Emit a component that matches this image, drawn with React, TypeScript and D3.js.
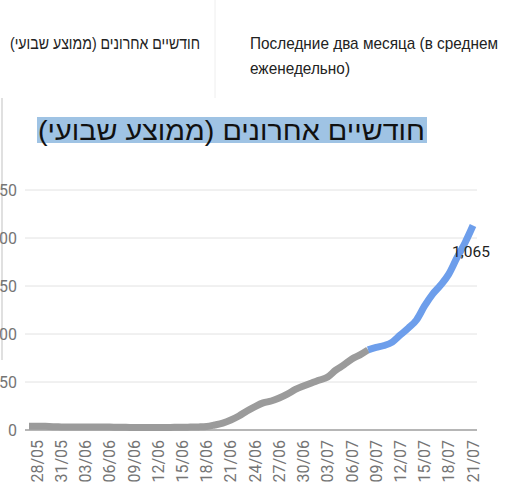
import React from "react";
import * as d3 from "d3";

const dates = [
  "27/05","28/05","29/05","30/05","31/05","01/06","02/06","03/06","04/06","05/06",
  "06/06","07/06","08/06","09/06","10/06","11/06","12/06","13/06","14/06","15/06",
  "16/06","17/06","18/06","19/06","20/06","21/06","22/06","23/06","24/06","25/06",
  "26/06","27/06","28/06","29/06","30/06","01/07","02/07","03/07","04/07","05/07",
  "06/07","07/07","08/07","09/07","10/07","11/07","12/07","13/07","14/07","15/07",
  "16/07","17/07","18/07","19/07","20/07","21/07",
];
const values = [
  20, 20, 19, 17, 16, 15, 15, 15, 15, 15,
  15, 14, 14, 13, 13, 13, 13, 13, 14, 14,
  15, 16, 18, 26, 36, 52, 73, 99, 122, 141,
  151, 167, 187, 211, 229, 245, 260, 276, 312, 339,
  370, 391, 417, 430, 440, 458, 495, 531, 573, 646,
  708, 755, 812, 896, 974, 1065,
];
const tickLabels = [
  "28/05","31/05","03/06","06/06","09/06","12/06","15/06","18/06","21/06","24/06",
  "27/06","30/06","03/07","06/07","09/07","12/07","15/07","18/07","21/07",
];
const yTicks = [0, 250, 500, 750, 1000, 1250];
const splitDate = "08/07";
const headerHe = "חודשיים אחרונים (ממוצע שבועי)";
const headerRu1 = "Последние два месяца (в среднем";
const headerRu2 = "еженедельно)";
const chartTitle = "חודשיים אחרונים (ממוצע שבועי)";
const lastLabel = "1,065";

export default function App() {
  const W = 505, H = 497;
  const x = d3.scalePoint<string>().domain(dates).range([29, 473]);
  const y = d3.scaleLinear().domain([0, 1250]).range([430, 190]);
  const pts = dates.map((d, i) => ({ d, v: values[i] }));
  const splitIdx = dates.indexOf(splitDate);
  const line = d3
    .line<{ d: string; v: number }>()
    .x((p) => x(p.d) as number)
    .y((p) => y(p.v))
    .curve(d3.curveMonotoneX);
  const grayPath = line(pts.slice(0, splitIdx + 1)) || "";
  const bluePath = line(pts.slice(splitIdx)) || "";
  const fmt = d3.format(",");
  const last = pts[pts.length - 1];
  const hdrFont = "'Liberation Sans', Arial, sans-serif";

  return (
    <svg
      width={W}
      height={H}
      style={{ position: "absolute", left: 0, top: 0, background: "#fff" }}
      fontFamily="Roboto, 'Liberation Sans', sans-serif"
    >
      {/* table header */}
      <line x1={215} x2={215} y1={0} y2={98} stroke="#eeeeee" strokeWidth={1} />
      <text
        x={200}
        y={49}
        textAnchor="start"
        direction="rtl"
        fontFamily={hdrFont}
        fontSize={17}
        fill="#222"
        textLength={190}
        lengthAdjust="spacingAndGlyphs"
      >
        {headerHe}
      </text>
      <text x={250} y={49} fontFamily={hdrFont} fontSize={17} fill="#222" textLength={248} lengthAdjust="spacingAndGlyphs">
        {headerRu1}
      </text>
      <text x={250} y={74} fontFamily={hdrFont} fontSize={17} fill="#222" textLength={100} lengthAdjust="spacingAndGlyphs">
        {headerRu2}
      </text>

      {/* chart frame edge */}
      <line x1={2} x2={2} y1={98} y2={360} stroke="#d6d6d6" strokeWidth={1.5} />

      {/* title */}
      <rect x={37} y={117} width={390} height={26} fill="#9fc3e4" />
      <text
        x={425}
        y={140}
        textAnchor="start"
        direction="rtl"
        fontFamily={hdrFont}
        fontSize={27}
        fill="#111"
        textLength={387}
        lengthAdjust="spacingAndGlyphs"
      >
        {chartTitle}
      </text>

      {/* grid */}
      {yTicks.map((t) => (
        <g key={t}>
          <line
            x1={25}
            x2={477}
            y1={y(t)}
            y2={y(t)}
            stroke={t === 0 ? "#9e9e9e" : "#e2e2e2"}
            strokeWidth={t === 0 ? 1.5 : 1}
          />
          <text x={17} y={y(t)} dy="0.35em" textAnchor="end" fontSize={16} fill="#757575">
            {fmt(t)}
          </text>
        </g>
      ))}

      {/* x labels */}
      {tickLabels.map((t) => (
        <text
          key={t}
          transform={`translate(${x(t)},440) rotate(-90)`}
          textAnchor="end"
          dy="0.35em"
          fontSize={16}
          fill="#757575"
        >
          {t}
        </text>
      ))}

      {/* line */}
      <path d={grayPath} fill="none" stroke="#9b9b9b" strokeWidth={7} strokeLinejoin="round" />
      <path d={bluePath} fill="none" stroke="#6d9eeb" strokeWidth={7} strokeLinejoin="round" />

      <text x={(x(last.d) as number) - 21} y={y(last.v) + 31} fontSize={15.5} fill="#222">
        {lastLabel}
      </text>
    </svg>
  );
}
